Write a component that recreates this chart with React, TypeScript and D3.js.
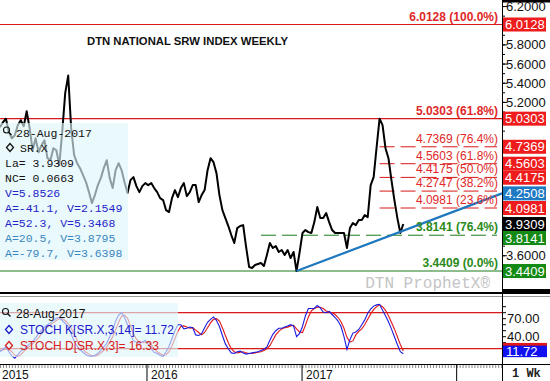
import React from "react";
import * as d3 from "d3";

// ---------- DATA ----------
const START_DATE = new Date(2015, 0, 19);
const DOMAIN_END = new Date(2018, 3, 18);

const priceValues = [
  4.941, 4.993, 5.03, 4.889, 4.826, 4.857, 4.962, 5.014, 4.951, 5.107,
  4.93, 4.701, 4.826, 4.68, 4.753, 4.805, 4.618, 4.597, 4.722, 4.701,
  4.545, 4.9, 5.3, 5.48, 4.93, 4.649, 4.566, 4.514, 4.441, 4.368,
  4.264, 4.149, 4.233, 4.337, 4.41, 4.514, 4.597, 4.41, 4.306, 4.493,
  4.566, 4.493, 4.368, 4.254, 4.389, 4.42, 4.326, 4.264, 4.326, 4.358,
  4.337, 4.358, 4.306, 4.264, 4.201, 4.181, 4.076, 4.056, 4.201, 4.285,
  4.212, 4.306, 4.358, 4.222, 4.264, 4.337, 4.337, 4.16, 4.233, 4.285,
  4.493, 4.618, 4.576, 4.462, 4.233, 4.076, 3.993, 3.91, 3.816, 3.733,
  3.889, 3.91, 3.92, 3.691, 3.483, 3.472, 3.504, 3.514, 3.524, 3.493,
  3.608, 3.733, 3.681, 3.701, 3.639, 3.66, 3.608, 3.66, 3.576, 3.639,
  3.4409, 3.629, 3.837, 3.868, 3.847, 3.837, 3.951, 4.108, 3.993, 3.993,
  4.045, 3.951, 3.868, 3.837, 3.837, 3.837, 3.837, 3.681, 3.889, 3.941,
  3.92, 3.972, 3.972, 4.024, 4.003, 4.337, 4.42, 4.732, 5.0303, 4.962,
  4.722, 4.618, 4.389, 4.181, 3.993, 3.837, 3.9309,
];

const stochK = [
  15, 19, 23, 15, 8, 4, 10, 16, 19, 24,
  28, 32, 38, 45, 51, 56, 60, 63, 67, 71,
  72, 67, 62, 57, 44, 33, 24, 18, 14, 10,
  8, 7, 9, 12, 17, 23, 29, 40, 51, 66,
  76, 80, 72, 60, 43, 33, 31, 29, 31, 34,
  27, 20, 14, 12, 9, 7, 15, 24, 37, 50,
  60, 60, 53, 54, 56, 55, 43, 42, 45, 55,
  64, 69, 73, 67, 57, 42, 28, 20, 13, 12,
  15, 16, 13, 11, 12, 13, 14, 15, 17, 19,
  23, 34, 44, 50, 54, 54, 56, 58, 60, 58,
  40, 45, 57, 75, 87, 87, 87, 92, 88, 81,
  80, 82, 77, 72, 66, 57, 40, 19, 35, 46,
  48, 52, 60, 68, 79, 86, 91, 93, 94, 84,
  75, 65, 53, 40, 27, 15, 11.72,
];

const stochD = [
  17, 18, 19, 19, 15, 9, 7, 10, 15, 20,
  24, 28, 33, 38, 45, 51, 56, 60, 63, 67,
  70, 70, 67, 62, 54, 45, 34, 25, 19, 14,
  11, 8, 8, 9, 13, 17, 23, 31, 40, 52,
  64, 74, 76, 71, 58, 45, 36, 31, 30, 31,
  31, 27, 20, 15, 12, 9, 10, 15, 25, 37,
  49, 57, 58, 56, 54, 55, 51, 47, 43, 47,
  55, 63, 69, 70, 66, 55, 42, 30, 20, 15,
  13, 14, 15, 13, 12, 12, 13, 14, 15, 17,
  20, 25, 34, 43, 49, 53, 55, 56, 58, 59,
  53, 48, 47, 59, 73, 83, 87, 89, 89, 87,
  83, 81, 80, 77, 72, 65, 54, 39, 31, 33,
  43, 49, 53, 60, 69, 78, 85, 90, 93, 90,
  84, 75, 64, 53, 40, 27, 16.33,
];

const yearStarts = [new Date(2016, 0, 1), new Date(2017, 0, 1), new Date(2018, 0, 1)];
const yearLabelDates = [new Date(2015, 0, 19), new Date(2016, 0, 1), new Date(2017, 0, 1)];
const yearLabels = ["2015", "2016", "2017"];
const priceTicks = [3.4, 3.6, 3.8, 4.0, 4.2, 4.4, 4.6, 4.8, 5.0, 5.2, 5.4, 5.6, 5.8, 6.0, 6.2];
const stochTickValues = [10, 20, 30, 40, 50, 60, 70, 80, 90];
const stochTickLabels = [40, 70];
const stochBands = [20, 80];

const fibFull = [
  { value: 6.0128, label: "6.0128 (100.0%)" },
  { value: 5.0303, label: "5.0303 (61.8%)" },
];
const fibRetrace = [
  { value: 4.7369, label: "4.7369 (76.4%)" },
  { value: 4.5603, label: "4.5603 (61.8%)" },
  { value: 4.4175, label: "4.4175 (50.0%)" },
  { value: 4.2747, label: "4.2747 (38.2%)" },
  { value: 4.0981, label: "4.0981 (23.6%)" },
];
const supportDashed = { value: 3.8141, label: "3.8141 (76.4%)" };
const supportSolid = { value: 3.4409, label: "3.4409 (0.0%)" };
const trendStartIndex = 100;
const trendEndValue = 4.2508;
const retraceStartIndex = 128;
const dashedSupportStartIndex = 88;
const lastK = 11.72;
const lastD = 16.33;

const infoLines = [
  { text: "La= 3.9309", color: "#111" },
  { text: "NC= 0.0663", color: "#111" },
  { text: "V=5.8526", color: "#2424c8" },
  { text: "A=-41.1, V=2.1549", color: "#2424c8" },
  { text: "A=52.3, V=5.3468", color: "#2424c8" },
  { text: "A=20.5, V=3.8795", color: "#3a86c0" },
  { text: "A=-79.7, V=3.6398", color: "#3a86c0" },
];

const priceTags = [
  { value: 6.0128, color: "#ee1c1c", text: "6.0128" },
  { value: 5.0303, color: "#ee1c1c", text: "5.0303" },
  { value: 4.7369, color: "#ee1c1c", text: "4.7369" },
  { value: 4.5603, color: "#ee1c1c", text: "4.5603" },
  { value: 4.4175, color: "#ee1c1c", text: "4.4175" },
  { value: 4.2508, color: "#1f7ac4", text: "4.2508" },
  { value: 4.0981, color: "#ee1c1c", text: "4.0981" },
  { value: 3.9309, color: "#000000", text: "3.9309" },
  { value: 3.8141, color: "#138a13", text: "3.8141" },
  { value: 3.4409, color: "#138a13", text: "3.4409" },
];

// ---------- LAYOUT ----------
const W = 550;
const H = 381;
const PLOT_R = 502;
const SANS = "'Liberation Sans', Arial, sans-serif";
const MONO = "'Liberation Mono', 'Courier New', monospace";
const RED = "#d81818";
const GREEN = "#1c7a1c";

export default function App() {
  const dates = priceValues.map((_, i) => d3.timeWeek.offset(START_DATE, i));
  const x = d3.scaleTime().domain([START_DATE, DOMAIN_END]).range([0, PLOT_R]);
  const y = d3.scaleLinear().domain([3.4409, 6.0128]).range([271, 24.5]);
  const sy = d3.scaleLinear().domain([0, 100]).range([360.7, 300.7]);

  const priceLine = d3.line<number>().x((_, i) => x(dates[i])).y((d) => y(d));
  const stochLine = d3.line<number>().x((_, i) => x(dates[i])).y((d) => sy(d));

  // tag collision layout
  const TAG_H = 14;
  const tags = priceTags
    .map((t) => ({ ...t, cy: y(t.value) }))
    .sort((a, b) => a.cy - b.cy);
  for (let i = 1; i < tags.length; i++) {
    if (tags[i].cy < tags[i - 1].cy + TAG_H) tags[i].cy = tags[i - 1].cy + TAG_H;
  }
  const visibleTicks = priceTicks.filter((v) => tags.every((t) => Math.abs(y(v) - t.cy) >= 12));

  const weekTicks = d3.timeMonday.range(START_DATE, DOMAIN_END);
  const minorPriceTicks = d3.range(3.4, 6.25, 0.1);

  const retraceX0 = x(dates[retraceStartIndex]);
  const dashX0 = x(dates[dashedSupportStartIndex]);

  return (
    <svg
      width={W}
      height={H}
      style={{ position: "absolute", left: 0, top: 0, background: "#fff" }}
      fontFamily={SANS}
    >
      <rect x={0} y={0} width={W} height={H} fill="#fff" />
      {/* main panel horizontal levels */}
      {fibFull.map((f) => (
        <line key={f.label} x1={0} x2={PLOT_R} y1={y(f.value)} y2={y(f.value)} stroke={RED} strokeWidth={1.2} />
      ))}
      <line x1={0} x2={PLOT_R} y1={y(supportSolid.value)} y2={y(supportSolid.value)} stroke={GREEN} strokeWidth={1.2} />
      <line
        x1={dashX0}
        x2={PLOT_R - 5}
        y1={y(supportDashed.value)}
        y2={y(supportDashed.value)}
        stroke={GREEN}
        strokeWidth={1}
        strokeDasharray="15,6"
      />
      {fibRetrace.map((f) => (
        <line
          key={f.label}
          x1={retraceX0}
          x2={PLOT_R - 5}
          y1={y(f.value)}
          y2={y(f.value)}
          stroke={RED}
          strokeWidth={1}
          strokeDasharray="15,6"
        />
      ))}

      {/* title */}
      <text x={87} y={45} fontSize={11.3} fontWeight="bold" fill="#111">
        DTN NATIONAL SRW INDEX WEEKLY
      </text>

      {/* price line */}
      <path d={priceLine(priceValues) || ""} fill="none" stroke="#000" strokeWidth={2} strokeLinejoin="round" />

      {/* trend line */}
      <line
        x1={x(dates[trendStartIndex])}
        y1={y(priceValues[trendStartIndex])}
        x2={PLOT_R}
        y2={y(trendEndValue)}
        stroke="#1f78be"
        strokeWidth={2.2}
      />

      {/* fib labels */}
      {fibFull.map((f) => (
        <text key={f.label} x={498} y={y(f.value) - 4} textAnchor="end" fontSize={12} fontWeight="bold" fill="#e02828">
          {f.label}
        </text>
      ))}
      {fibRetrace.map((f) => (
        <text key={f.label} x={498} y={y(f.value) - 4} textAnchor="end" fontSize={12} fill="#e02828">
          {f.label}
        </text>
      ))}
      <text x={498} y={y(supportDashed.value) - 4} textAnchor="end" fontSize={12} fontWeight="bold" fill="#2a8a1a">
        {supportDashed.label}
      </text>
      <text x={498} y={y(supportSolid.value) - 4} textAnchor="end" fontSize={12} fontWeight="bold" fill="#2a8a1a">
        {supportSolid.label}
      </text>

      {/* watermark */}
      <text x={490} y={288} textAnchor="end" fontFamily={MONO} fontSize={16} fill="#c4c4c4">
        DTN ProphetX®
      </text>

      {/* info box main */}
      <rect x={0} y={123} width={128} height={137} fill="rgb(222,246,251)" opacity={0.64} />
      <g fontFamily={MONO} fontSize={11.5}>
        <circle cx={6.5} cy={130} r={3} fill="none" stroke="#111" strokeWidth={1.1} />
        <line x1={8.7} y1={132.2} x2={11.5} y2={135} stroke="#111" strokeWidth={1.3} />
        <text x={16} y={136.5} fill="#111">28-Aug-2017</text>
        <path d="M10,143.5 L13.5,147.5 L10,151.5 L6.5,147.5 Z" fill="none" stroke="#111" strokeWidth={1.3} />
        <text x={20} y={151.5} fill="#111">SR.X</text>
        {infoLines.map((l, i) => (
          <text key={l.text} x={5} y={166.5 + i * 15} fill={l.color}>
            {l.text}
          </text>
        ))}
      </g>

      {/* separator */}
      <rect x={0} y={292} width={W} height={2} fill="#000" />
      <rect x={PLOT_R} y={289} width={W - PLOT_R} height={5} fill="#000" />
      <line x1={0} x2={W} y1={296.5} y2={296.5} stroke="#9a9a9a" strokeWidth={1} />

      {/* stochastic panel */}
      {stochBands.map((b) => (
        <line key={b} x1={0} x2={PLOT_R} y1={sy(b)} y2={sy(b)} stroke={RED} strokeWidth={1.2} />
      ))}
      <path d={stochLine(stochD) || ""} fill="none" stroke="#e01818" strokeWidth={1.1} />
      <path d={stochLine(stochK) || ""} fill="none" stroke="#1a1ae0" strokeWidth={1.1} />
      <rect x={0} y={303} width={178} height={54} fill="rgb(222,246,251)" opacity={0.64} />
      <g fontSize={12}>
        <circle cx={5.5} cy={311.5} r={3} fill="none" stroke="#111" strokeWidth={1.1} />
        <line x1={7.7} y1={313.7} x2={10.5} y2={316.5} stroke="#111" strokeWidth={1.3} />
        <text x={16} y={318} fill="#111">28-Aug-2017</text>
        <path d="M9,325.5 L12.5,329.5 L9,333.5 L5.5,329.5 Z" fill="none" stroke="#1a1acc" strokeWidth={1.3} />
        <text x={20} y={334} fill="#1a1acc">STOCH K[SR.X,3,14]= 11.72</text>
        <path d="M9,341.5 L12.5,345.5 L9,349.5 L5.5,345.5 Z" fill="none" stroke="#d82020" strokeWidth={1.3} />
        <text x={20} y={350} fill="#d82020">STOCH D[SR.X,3]= 16.33</text>
      </g>

      {/* x axis */}
      <line x1={0} x2={W} y1={364.5} y2={364.5} stroke="#000" strokeWidth={1} />
      {weekTicks.map((d, i) => (
        <line key={i} x1={x(d) + 0.5} x2={x(d) + 0.5} y1={365} y2={368} stroke="#888" strokeWidth={1} />
      ))}
      {yearStarts.map((d, i) => (
        <line key={i} x1={x(d)} x2={x(d)} y1={365} y2={H} stroke="#000" strokeWidth={1} />
      ))}
      {yearLabels.map((l, i) => (
        <text key={l} x={i === 0 ? 2 : x(yearLabelDates[i]) + 4} y={379} fontSize={12} fill="#111">
          {l}
        </text>
      ))}

      {/* right axis */}
      <rect x={PLOT_R} y={0} width={W - PLOT_R} height={2.5} fill="#000" />
      <line x1={PLOT_R + 0.5} x2={PLOT_R + 0.5} y1={0} y2={H} stroke="#000" strokeWidth={1} />
      {minorPriceTicks.map((v, i) => (
        <line key={"m" + i} x1={PLOT_R} x2={PLOT_R + 3} y1={y(v)} y2={y(v)} stroke="#000" strokeWidth={1} />
      ))}
      {priceTicks.map((v) => (
        <line key={"t" + v} x1={PLOT_R} x2={PLOT_R + 5} y1={y(v)} y2={y(v)} stroke="#000" strokeWidth={1} />
      ))}
      {visibleTicks.map((v) => (
        <text key={"l" + v} x={506} y={y(v) + 4.5} fontSize={13} fill="#111">
          {v.toFixed(4)}
        </text>
      ))}
      {tags.map((t) => (
        <g key={t.text}>
          <rect x={503} y={t.cy - TAG_H / 2} width={43} height={TAG_H} fill={t.color} />
          <text x={505} y={t.cy + 4.5} fontSize={13} fill="#fff">
            {t.text}
          </text>
        </g>
      ))}
      {stochTickValues.map((v) => (
        <line key={"s" + v} x1={PLOT_R} x2={PLOT_R + 4} y1={sy(v)} y2={sy(v)} stroke="#000" strokeWidth={1} />
      ))}
      {stochTickLabels.map((v) => (
        <text key={"sl" + v} x={507} y={sy(v) + 4.5} fontSize={13} fill="#111">
          {v.toFixed(2)}
        </text>
      ))}
      <rect x={503} y={sy(lastD) - 8} width={44} height={11} fill="#e01818" />
      <rect x={503} y={sy(lastK) - 8} width={44} height={11.5} fill="#1010f0" />
      <text x={506} y={sy(lastK) + 2.5} fontSize={13} fill="#fff">
        {lastK.toFixed(2)}
      </text>
      <text x={512} y={377} fontFamily={MONO} fontSize={12} fontWeight="bold" fill="#222">
        1 Wk
      </text>
    </svg>
  );
}
